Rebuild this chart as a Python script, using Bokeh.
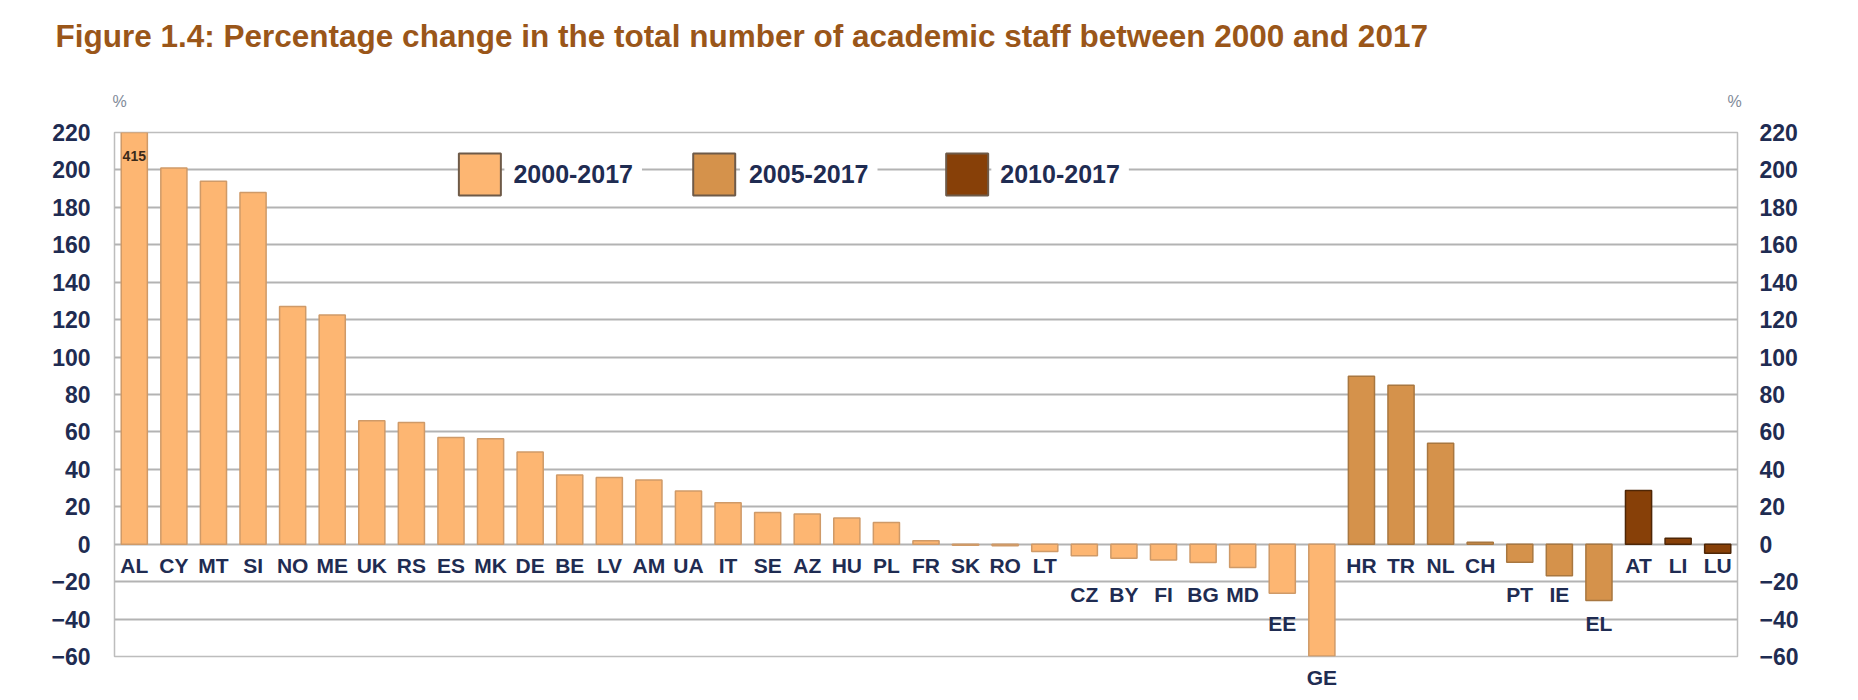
from bokeh.plotting import figure
from bokeh.models import (ColumnDataSource, Range1d, LinearAxis, FixedTicker, LabelSet, Label)
from bokeh.core.properties import value
from bokeh.embed import file_html
from bokeh.resources import INLINE

# ---------------- data ----------------
countries = ["AL", "CY", "MT", "SI", "NO", "ME", "UK", "RS", "ES", "MK", "DE", "BE", "LV", "AM",
             "UA", "IT", "SE", "AZ", "HU", "PL", "FR", "SK", "RO", "LT", "CZ", "BY", "FI", "BG",
             "MD", "EE", "GE", "HR", "TR", "NL", "CH", "PT", "IE", "EL", "AT", "LI", "LU"]
change = [415, 201, 194, 188, 127, 122.5, 66, 65, 57, 56.3, 49.3, 37, 35.7, 34.3,
          28.4, 22.1, 17, 16.2, 14, 11.6, 1.9, -0.5, -0.8, -3.9, -6.2, -7.5, -8.4, -9.8,
          -12.5, -26.2, -59.7, 89.7, 84.9, 54, 1.1, -9.6, -16.9, -30.1, 28.7, 3.2, -4.8]
period = ["2000-2017"] * 31 + ["2005-2017"] * 7 + ["2010-2017"] * 3
periods = ["2000-2017", "2005-2017", "2010-2017"]
fills = ["#FDB672", "#D5924B", "#874008"]
edges = ["#CF9A68", "#A87740", "#4E2606"]
y_ticks = list(range(-60, 221, 20))
note_415 = "415"
title_text = "Figure 1.4: Percentage change in the total number of academic staff between 2000 and 2017"

NAVY = "#1F2C52"
FONT = "Liberation Sans"
Y0, Y1 = -60, 220

n = len(countries)
pos = [i + 0.5 for i in range(n)]          # centre of each category band

p = figure(width=1856, height=698, x_range=Range1d(0, n), y_range=Range1d(Y0, Y1),
           output_backend="svg", toolbar_location=None, title=title_text,
           min_border_left=114, min_border_right=119, min_border_top=132, min_border_bottom=42)

p.title.text_font = FONT
p.title.text_font_style = "bold"
p.title.text_font_size = "31.5px"
p.title.text_color = "#9A5619"
p.title.align = "left"
p.title.offset = -59
p.title.standoff = 30

p.yaxis.ticker = FixedTicker(ticks=y_ticks)
p.ygrid.ticker = FixedTicker(ticks=y_ticks)
p.xgrid.visible = False
p.ygrid.grid_line_color = "#B3B3B3"
p.ygrid.grid_line_width = 2
p.outline_line_color = "#BDBDBD"
p.outline_line_width = 1.5
p.background_fill_color = "white"
p.border_fill_color = "white"

right = LinearAxis(ticker=FixedTicker(ticks=y_ticks))
p.add_layout(right, "right")
for ax, st in ((p.yaxis[0], 24), (right, 22)):
    ax.axis_line_color = None
    ax.major_tick_line_color = None
    ax.minor_tick_line_color = None
    ax.major_tick_out = 0
    ax.major_label_standoff = st
    ax.major_label_text_font = FONT
    ax.major_label_text_font_style = "bold"
    ax.major_label_text_font_size = "23px"
    ax.major_label_text_color = NAVY

# bars per period
for per, fc, lc in zip(periods, fills, edges):
    xs = [x for x, q in zip(pos, period) if q == per]
    ys = [v for v, q in zip(change, period) if q == per]
    p.vbar(x=xs, top=ys, bottom=0, width=0.66, fill_color=fc, line_color=lc, line_width=1.5)

# category labels: below zero or below the end of negative bars
def label_y(v):
    if v > -5:
        return -11.5
    if v >= -20:
        return -27
    if v >= -40:
        return -42.3
    return v - 11.5

ly = [label_y(v) for v in change]
inside = [i for i in range(n) if ly[i] > Y0]
outside = [i for i in range(n) if ly[i] <= Y0]

lab_src = ColumnDataSource(dict(x=[pos[i] for i in inside], y=[ly[i] for i in inside],
                                t=[countries[i] for i in inside]))
p.add_layout(LabelSet(x="x", y="y", text="t", source=lab_src, text_align="center",
                      text_baseline="middle", text_font=value(FONT), text_font_style="bold",
                      text_font_size="21px", text_color=NAVY))

# labels that fall below the frame go on the bottom axis
bx = p.xaxis[0]
bx.ticker = FixedTicker(ticks=[pos[i] for i in outside])
bx.major_label_overrides = {pos[i]: countries[i] for i in outside}
bx.axis_line_color = None
bx.major_tick_line_color = None
bx.minor_tick_line_color = None
bx.major_tick_out = 0
bx.major_label_standoff = 9
bx.major_label_text_font = FONT
bx.major_label_text_font_style = "bold"
bx.major_label_text_font_size = "21px"
bx.major_label_text_color = NAVY

# "%" unit markers above both value axes (blank axis label only reserves space above them)
unit_pos = [0.13, n - 0.07]
top = LinearAxis(ticker=FixedTicker(ticks=unit_pos),
                 major_label_overrides={u: "%" for u in unit_pos})
top.axis_line_color = None
top.major_tick_line_color = None
top.minor_tick_line_color = None
top.major_tick_out = 0
top.major_label_standoff = 23
top.major_label_text_font = FONT
top.major_label_text_font_size = "16px"
top.major_label_text_color = "#7F8A99"
top.axis_label = "\u00a0"
top.axis_label_standoff = 2
top.axis_label_text_font_size = "14px"
p.add_layout(top, "above")

# value note on truncated bar
p.add_layout(Label(x=pos[0], y=207.6, text=note_415, text_align="center",
                   text_baseline="middle", text_font=FONT, text_font_style="bold",
                   text_font_size="14px", text_color="#3a2a1a"))

# legend (manual, sitting on the 200 gridline)
leg_x = [9.23, 15.15, 21.54]
txt_x = [9.85, 15.8, 22.15]
leg_y = 197.6
p.rect(x=leg_x, y=[leg_y] * 3, width=42, height=42, width_units="screen", height_units="screen",
       fill_color=fills, line_color="#6E5A48", line_width=2)
for per, tx in zip(periods, txt_x):
    p.add_layout(Label(x=tx, y=leg_y, text=per, text_align="left",
                       text_baseline="middle", text_font=FONT, text_font_style="bold",
                       text_font_size="25px", text_color=NAVY,
                       background_fill_color="white", padding=9))

open("out.html", "w").write(file_html(p, INLINE))
